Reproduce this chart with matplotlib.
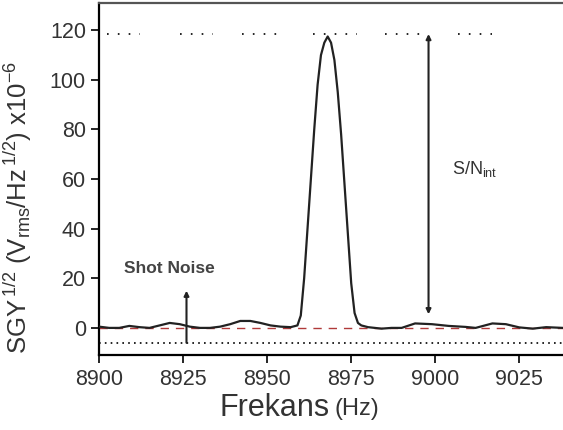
import numpy as np
import matplotlib.pyplot as plt

plt.rcParams['font.family'] = ['Liberation Sans', 'DejaVu Sans']
plt.rcParams['mathtext.fontset'] = 'custom'
plt.rcParams['mathtext.rm'] = 'Liberation Sans'
plt.rcParams['mathtext.it'] = 'Liberation Sans'

# Spektrum (Hz, x10^-6)
freq = [8900, 8903, 8906, 8909, 8912, 8915, 8918, 8921, 8924, 8927, 8930, 8933,
        8936, 8939, 8942, 8945, 8948, 8951, 8954, 8957, 8959,
        8960, 8961, 8962, 8963, 8964, 8965, 8966, 8967, 8968, 8969, 8970,
        8971, 8972, 8973, 8974, 8975, 8976, 8977, 8978,
        8980, 8984, 8987, 8990, 8994, 8999, 9004, 9009, 9012, 9017, 9021,
        9025, 9029, 9033, 9038]
sgy = [0.5, 0.0, 0.0, 0.8, 0.3, 0.0, 1.0, 2.0, 1.5, 0.5, 0.0, 0.0,
       0.5, 1.5, 2.8, 2.8, 2.0, 1.0, 0.5, 0.3, 1.0,
       5, 20, 40, 60, 80, 98, 110, 115, 117.5, 115, 108,
       95, 78, 58, 38, 18, 6, 2, 1.0,
       0.3, -0.3, 0.0, 0.0, 1.8, 1.5, 0.8, 0.4, 0.0, 1.8, 1.5,
       0.2, -0.3, 0.3, 0.0]

peak_level = 118.5
shot_level = -6
baseline = 0
# parcali noktali cizgi (Hz araliklari)
top_segments = [(8902.4, 8912.2), (8924.1, 8933.9), (8942.6, 8954.8),
                (8963.7, 8976.8), (8985.1, 8997.0), (9006.8, 9016.9)]

sn_x, sn_top, sn_bottom = 8998, 118.5, 5.5
shot_x, shot_top = 8926, 15

xticks = [8900, 8925, 8950, 8975, 9000, 9025]
yticks = [0, 20, 40, 60, 80, 100, 120]

fig = plt.figure(figsize=(5.63, 4.30), dpi=100)
ax = fig.add_axes([0.176, 0.174, 0.824, 0.819])

ax.axhline(baseline, color='#b03a3a', lw=1.0, ls=(0, (6, 5)), zorder=1)
ax.axhline(shot_level, color='black', lw=1.2, ls=(0, (1, 2.5)), zorder=1)
for a, b in top_segments:
    ax.plot([a, b], [peak_level, peak_level], color='black', lw=1.2,
            ls=(0, (1, 5.5)))

ax.plot(freq, sgy, color='#222222', lw=1.6, zorder=3)

ax.annotate('', xy=(sn_x, sn_top), xytext=(sn_x, sn_bottom),
            arrowprops=dict(arrowstyle='<|-|>', color='#222222', lw=1.5,
                            mutation_scale=7, shrinkA=0, shrinkB=0))
ax.annotate('', xy=(shot_x, shot_top), xytext=(shot_x, shot_level),
            arrowprops=dict(arrowstyle='-|>', color='#222222', lw=1.5,
                            mutation_scale=7, shrinkA=0, shrinkB=0))

ax.text(9005, 64, r'S/N$_{\rm int}$', fontsize=13, color='#333333',
        va='center', ha='left')
ax.text(8907.5, 24, 'Shot Noise', fontsize=12.5, fontweight='bold',
        color='#444444', va='center', ha='left')

ax.set_xlim(8900, 9038)
ax.set_ylim(-11, 131)
ax.set_xticks(xticks)
ax.set_yticks(yticks)
ax.tick_params(direction='out', length=6, width=1.2, labelsize=15.5,
               labelcolor='#333333')
ax.tick_params(axis='x', pad=4)

# x ekseni basligi: "Frekans" buyuk, "(Hz)" kucuk
fig.text(0.585, 0.05, 'Frekans', fontsize=22, color='#333333',
         ha='right', va='center')
fig.text(0.595, 0.05, '(Hz)', fontsize=17, color='#333333',
         ha='left', va='center')

ax.set_ylabel(r'SGY$^{\,1/2}$ (V$_{\rm rms}$/Hz$^{\,1/2}$) x10$^{-6}$',
              fontsize=18.5, color='#333333')
ax.yaxis.set_label_coords(-0.14, 0.42)

for s in ['left', 'bottom', 'top']:
    ax.spines[s].set_linewidth(1.6)
ax.spines['top'].set_color('#555555')
ax.spines['right'].set_visible(False)

fig.savefig('out.png', dpi=100)
